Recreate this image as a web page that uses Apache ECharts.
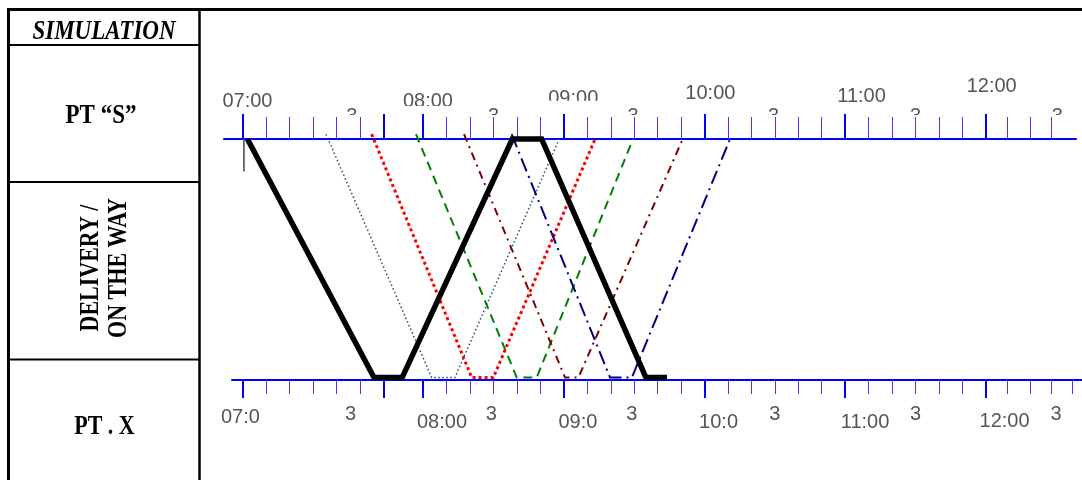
<!DOCTYPE html>
<html><head><meta charset="utf-8">
<script src="https://cdn.jsdelivr.net/npm/echarts@6/dist/echarts.min.js"></script>
<style>html,body{margin:0;padding:0;background:#fff}#c{width:1082px;height:480px}</style>
</head><body><div id="c"></div>
<script>
// Time unit: minutes along the drawn time scale (0 = the "07:00" tick)
const majorTicks = [0, 60, 77, 137, 197, 257, 317];
const minorTicks = [10, 20, 30, 40, 50, 87, 97, 107, 117, 127, 147, 157, 167, 177, 187,
                    207, 217, 227, 237, 247, 267, 277, 287, 297, 307, 326, 336, 345];
const bottomOnlyTicks = [354];

const topLabels    = ['07:00', '3', '08:00', '3', '09:00', '3', '10:00', '3', '11:00', '3', '12:00', '3'];
const topLabelAt   = [2, 46.5, 79, 107, 141, 166.5, 199.5, 226.5, 264, 287, 319.5, 347.5];
const bottomLabels  = ['07:0', '3', '08:00', '3', '09:0', '3', '10:0', '3', '11:00', '3', '12:00', '3'];
const bottomLabelAt = [-1, 46, 85, 106, 143, 166, 203, 227, 265.5, 287, 325, 347];

// place: 1 = PT "S" (top), 0 = PT . X (bottom)
const blackT  = [2, 56, 68, 115, 127.5, 172, 181];
const blackP  = [1, 0.01, 0.01, 1, 1, 0.01, 0.01];
const slateT  = [35.5, 80.6, 90.5, 135];
const redT    = [55, 97.7, 106.9, 150.3];
const greenT  = [73.9, 116.9, 125.4, 166.5];
const maroonT = [94.4, 137.5, 143.2, 187.7];
const navyT   = [114.7, 156.7, 166, 207.9];
const tripP   = [1.02, 0.01, 0.01, 1];
const markT   = [0.5, 0.5];
const markP   = [1, 0.865];

const ORIGIN = 242.75, K = 2.344;
const toVal = px => (px - ORIGIN) / K;
const toPx = v => ORIGIN + v * K;
const FONT = '"Liberation Sans", Arial, sans-serif';
const SERIF = '"Liberation Serif", "Times New Roman", serif';
const BLUE = '#0000ff';

const bottomDrop = [5, 2, 10, 2, 10, 2, 10, 2, 10, 2, 9, 2];
const topLift = [15.5, 0, 15, 0, 18, 0, 23, 0, 20, 0, 30.5, 0];
// bottom edge of the visible part of each top label (the reference crops them)
const topCropAt = [null, 115, 106, 115, 100.7, 115, null, 115, null, 115, null, 115];

function makeRich(prefix, arr, top) {
  const r = {};
  arr.forEach((p, i) => {
    r[prefix + i] = { fontSize: 20, fontFamily: FONT, color: '#555',
      padding: top ? [0, 0, p, 0] : [p, 0, 0, 0] };
  });
  return r;
}
function fmt(prefix, at, labels) {
  return function (v) {
    const i = at.findIndex(a => Math.abs(a - v) < 1e-6);
    return i < 0 ? '' : '{' + prefix + i + '|' + labels[i] + '}';
  };
}
const zip = (a, b) => a.map((x, i) => [x, b[i]]);

const bMin = toVal(232), bMax = toVal(1082), tMin = toVal(224), tMax = toVal(1076);
const common = { type: 'value', splitLine: { show: false }, axisPointer: { show: false } };
const lineOn = { show: true, onZero: false, lineStyle: { color: BLUE, width: 2 } };
const lineOff = { show: false, onZero: false };

const xAxis = [
  Object.assign({}, common, { gridIndex: 0, position: 'bottom', min: bMin, max: bMax, z: 3,
    axisLine: lineOn,
    axisTick: { show: true, customValues: majorTicks, length: 18, lineStyle: { color: BLUE, width: 2 } },
    axisLabel: { show: false } }),
  Object.assign({}, common, { gridIndex: 0, position: 'bottom', min: bMin, max: bMax, z: 3,
    axisLine: lineOff,
    axisTick: { show: true, customValues: minorTicks.concat(bottomOnlyTicks), length: 14, lineStyle: { color: '#3d3dff', width: 1 } },
    axisLabel: { show: false } }),
  Object.assign({}, common, { gridIndex: 0, position: 'bottom', min: bMin, max: bMax, z: 0,
    axisLine: lineOff, axisTick: { show: false },
    axisLabel: { show: true, customValues: bottomLabelAt, margin: 22, verticalAlign: 'top',
      formatter: fmt('b', bottomLabelAt, bottomLabels), rich: makeRich('b', bottomDrop, false) } }),
  Object.assign({}, common, { gridIndex: 1, position: 'top', min: tMin, max: tMax, z: 3,
    axisLine: lineOn,
    axisTick: { show: true, customValues: majorTicks, length: 25, lineStyle: { color: BLUE, width: 2 } },
    axisLabel: { show: false } }),
  Object.assign({}, common, { gridIndex: 1, position: 'top', min: tMin, max: tMax, z: 3,
    axisLine: lineOff,
    axisTick: { show: true, customValues: minorTicks, length: 22, lineStyle: { color: '#3d3dff', width: 1 } },
    axisLabel: { show: false } }),
  Object.assign({}, common, { gridIndex: 1, position: 'top', min: tMin, max: tMax, z: 0,
    axisLine: lineOff, axisTick: { show: false },
    axisLabel: { show: true, customValues: topLabelAt, margin: 12.5, verticalAlign: 'bottom',
      formatter: fmt('t', topLabelAt, topLabels), rich: makeRich('t', topLift, true) } })
];

function trip(data, color, width, type) {
  return { type: 'line', xAxisIndex: 0, yAxisIndex: 0, data: data, symbol: 'none', clip: false,
    silent: true, animation: false, z: 4,
    lineStyle: { color: color, width: width, type: type, cap: 'butt', join: 'miter' } };
}

const T = (text, x, y, font, extra) => Object.assign({
  type: 'text', x: x, y: y, scaleY: 1.22, z: 10,
  style: { text: text, font: font, fill: '#000', textAlign: 'center', textVerticalAlign: 'middle',
    align: 'center', verticalAlign: 'middle' } }, extra || {});
const L = (x1, y1, x2, y2, w) => ({ type: 'line', z: 10,
  shape: { x1: x1, y1: y1, x2: x2, y2: y2 }, style: { stroke: '#000', lineWidth: w } });

// white crops over the lower part of the top-axis labels, under the ticks
const crops = [];
topCropAt.forEach((y, i) => {
  if (y == null) return;
  const cx = toPx(topLabelAt[i]);
  const half = topLabels[i].length > 1 ? 30 : 9;
  crops.push({ type: 'rect', z: 1, silent: true,
    shape: { x: cx - half, y: y, width: half * 2, height: 136 - y },
    style: { fill: '#fff' } });
});

const chart = echarts.init(document.getElementById('c'), null, { renderer: 'canvas' });
chart.setOption({
  animation: false,
  backgroundColor: '#fff',
  grid: [
    { left: 232, right: 0, top: 139, height: 241 },
    { left: 224, right: 6, top: 139, height: 241 }
  ],
  xAxis: xAxis,
  yAxis: [
    { type: 'value', gridIndex: 0, min: 0, max: 1, show: false },
    { type: 'value', gridIndex: 1, min: 0, max: 1, show: false }
  ],
  series: [
    trip(zip(markT, markP), '#444', 1.5, 'solid'),
    trip(zip(slateT, tripP), '#1f4e79', 1.5, [1.5, 2.5]),
    trip(zip(redT, tripP), '#ff0000', 3, [3, 3]),
    trip(zip(greenT, tripP), '#008000', 2, [9, 6]),
    trip(zip(maroonT, tripP), '#800000', 2, [8, 5, 2, 5]),
    trip(zip(navyT, tripP), '#000080', 2, [14, 5, 2, 5]),
    trip(zip(blackT, blackP), '#000000', 5.5, 'solid')
  ],
  graphic: crops.concat([
    L(7, 9.5, 1082, 9.5, 3),
    L(8.5, 8, 8.5, 480, 3),
    L(199.5, 8, 199.5, 480, 2.5),
    L(8, 45, 199.5, 45, 2),
    L(8, 182, 199.5, 182, 2),
    L(8, 359.5, 199.5, 359.5, 2),
    T('SIMULATION', 104, 32, 'italic bold 23px ' + SERIF),
    T('PT \u201cS\u201d', 101, 116, 'bold 23px ' + SERIF),
    T('DELIVERY /\nON THE WAY', 105, 268, 'bold 22px ' + SERIF,
      { rotation: Math.PI / 2, style: { text: 'DELIVERY /\nON THE WAY', font: 'bold 22px ' + SERIF,
        fill: '#000', textAlign: 'center', textVerticalAlign: 'middle', align: 'center',
        verticalAlign: 'middle', lineHeight: 23 } }),
    T('PT . X', 104.5, 427.5, 'bold 22px ' + SERIF)
  ])
});
</script></body></html>
